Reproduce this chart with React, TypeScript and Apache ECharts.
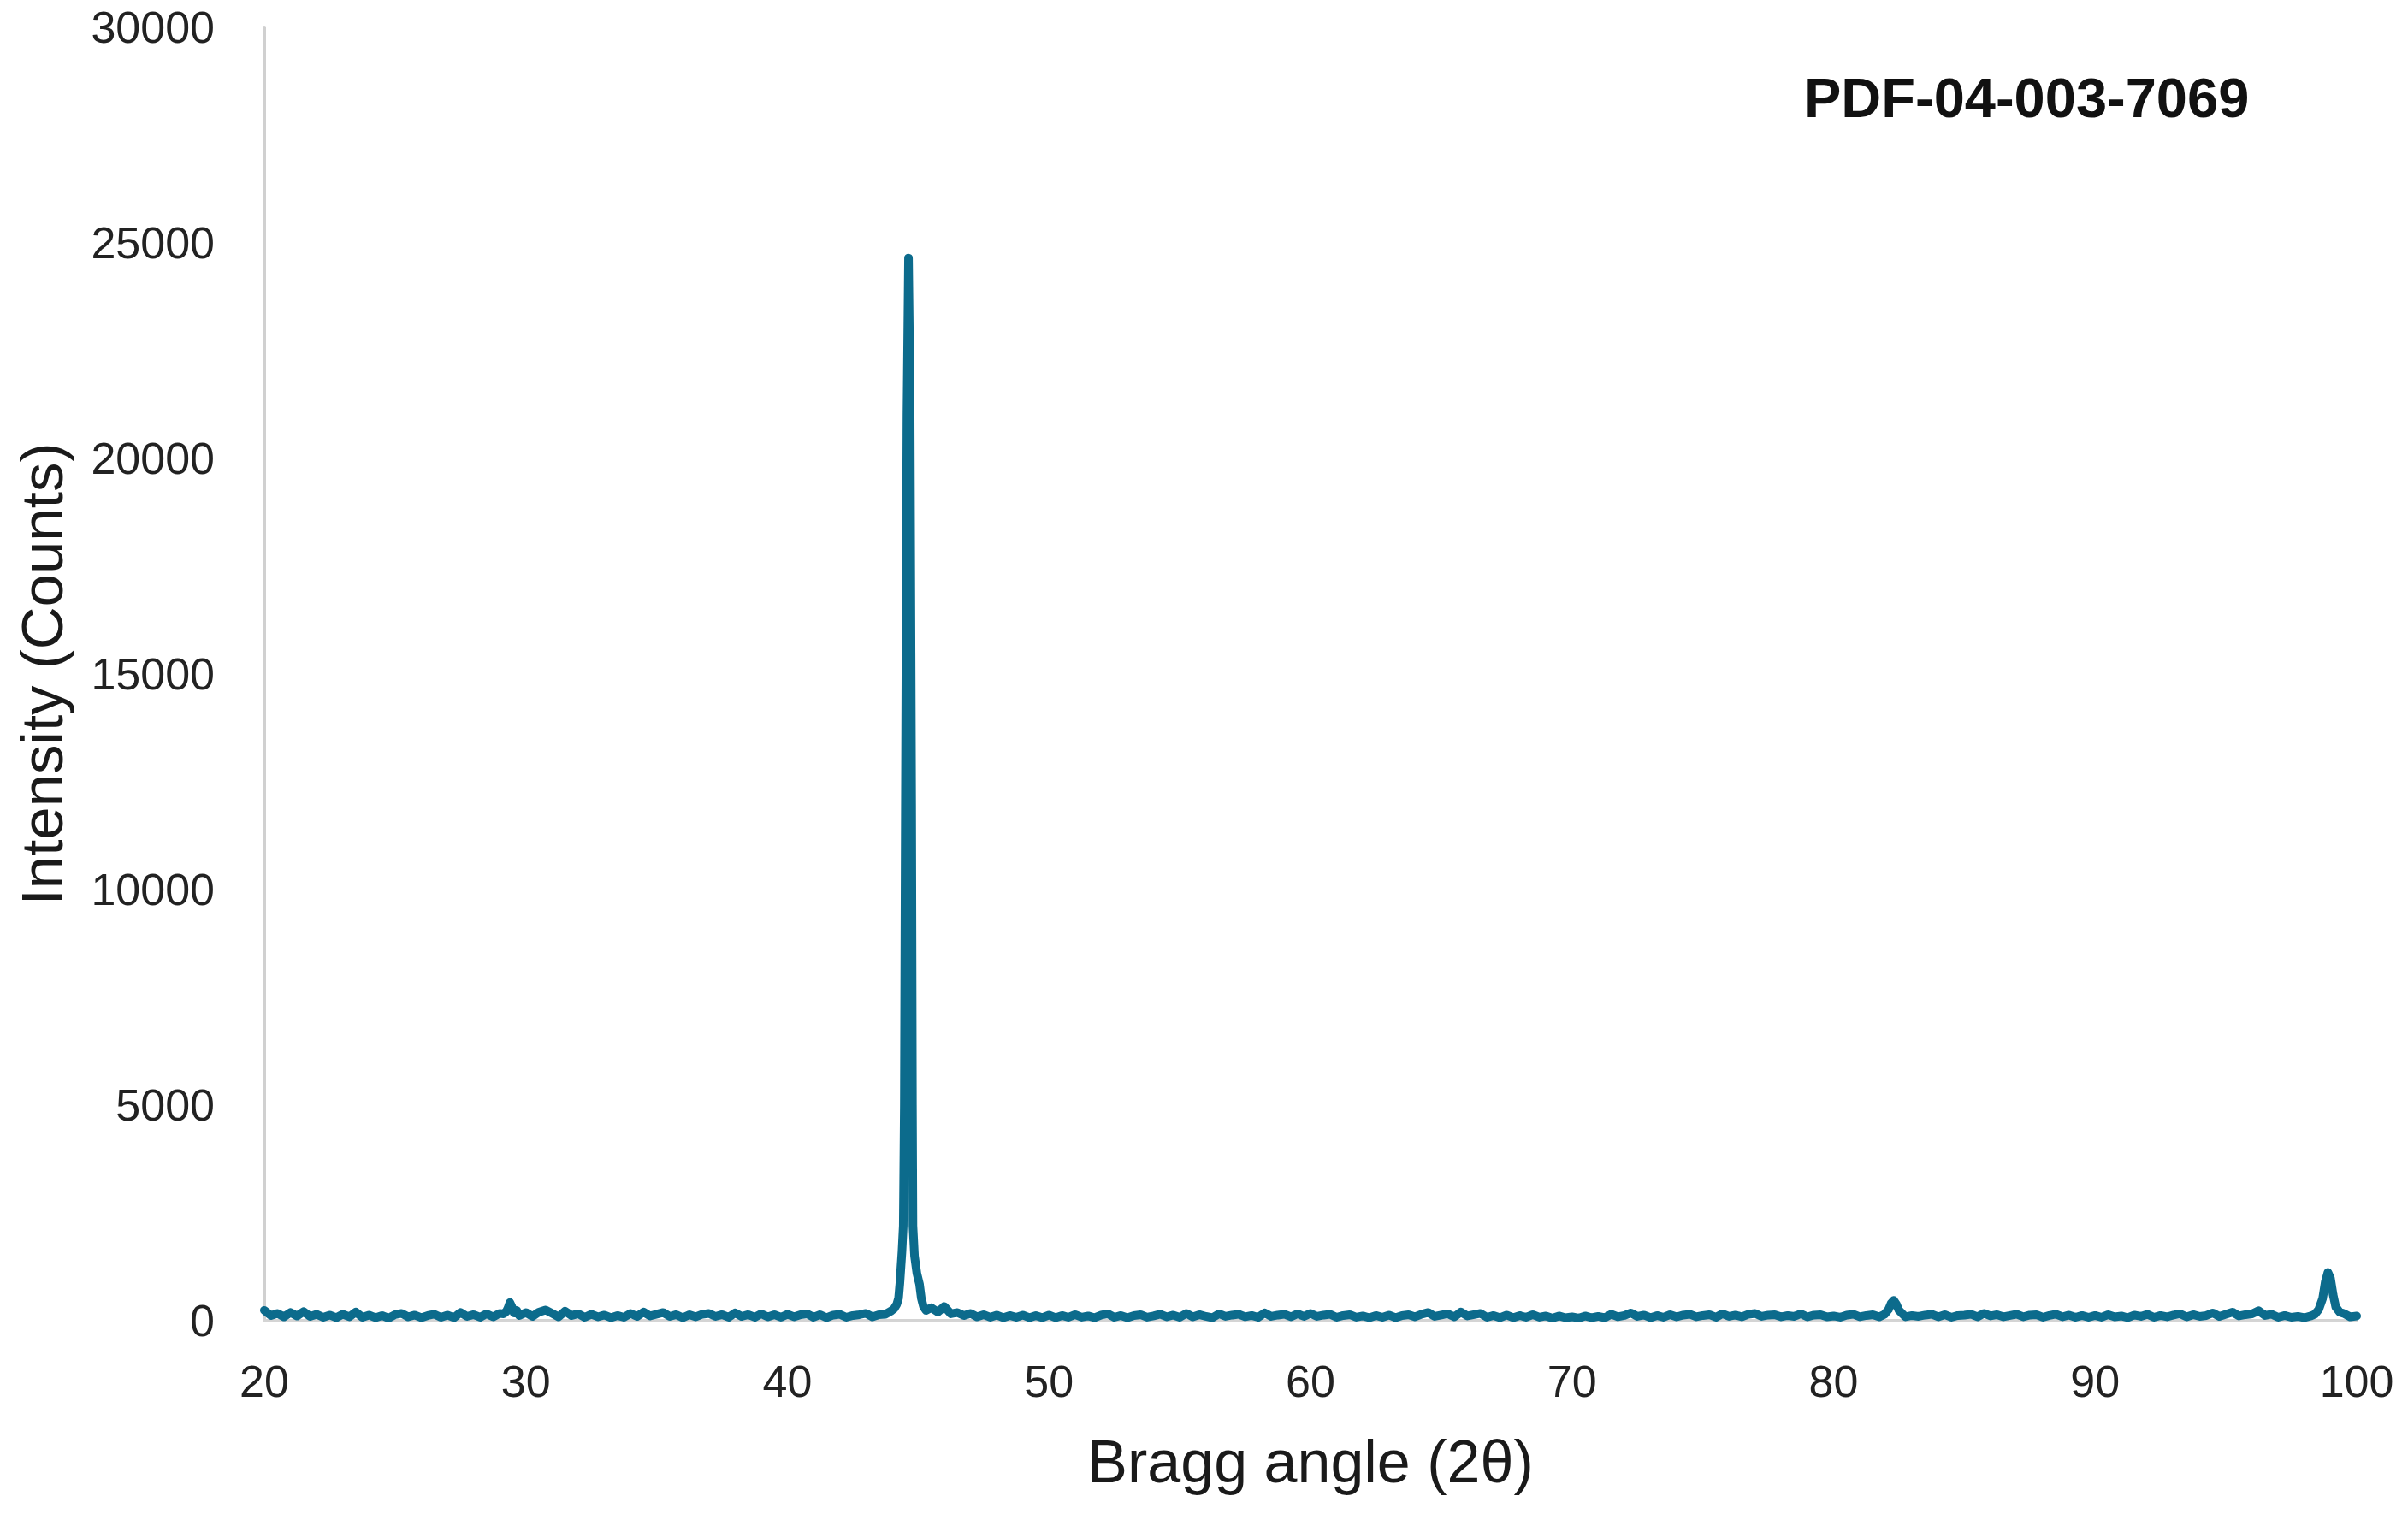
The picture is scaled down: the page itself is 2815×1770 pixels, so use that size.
import React, { useEffect, useRef } from "react";
import * as echarts from "echarts";

// Background counts at 0.25° steps, one array per decade (start angle in name)
const bg20 = [240, 120, 170, 90, 190, 110, 210, 100, 150, 80, 130, 70, 150, 90, 200, 80, 130, 70, 120, 60, 140, 170, 90, 130, 70, 120, 150, 80, 130, 70, 190, 100, 140, 80, 160, 90, 170, 250, 180, 120];
const bg30 = [190, 100, 200, 250, 170, 90, 220, 120, 160, 80, 150, 90, 130, 70, 120, 80, 170, 100, 200, 110, 150, 190, 100, 140, 70, 140, 90, 150, 170, 100, 140, 80, 180, 100, 140, 80, 160, 90, 140, 80];
const bg40 = [150, 90, 140, 160, 80, 140, 70, 130, 150, 80, 120, 140, 170, 90, 140, 150, 200, 160, 170, 190, 230, 260, 300, 200, 330, 160, 190, 120, 170, 90, 140, 80, 130, 70, 120, 80, 130, 70, 120, 70];
const bg50 = [130, 70, 120, 80, 140, 80, 110, 70, 130, 160, 80, 120, 70, 120, 140, 80, 110, 150, 90, 130, 80, 170, 90, 140, 100, 70, 160, 100, 130, 150, 90, 120, 80, 180, 100, 130, 150, 90, 160, 100];
const bg60 = [170, 100, 130, 150, 80, 120, 140, 80, 110, 70, 120, 80, 130, 70, 120, 140, 90, 150, 190, 100, 130, 160, 90, 200, 110, 140, 170, 80, 120, 70, 130, 70, 120, 80, 140, 80, 110, 60, 110, 70];
const bg70 = [90, 60, 110, 70, 100, 70, 150, 90, 120, 180, 100, 130, 70, 120, 80, 140, 90, 130, 150, 90, 120, 140, 80, 160, 100, 130, 90, 150, 170, 100, 130, 140, 90, 120, 100, 160, 90, 130, 140, 90];
const bg80 = [110, 80, 130, 150, 90, 120, 140, 90, 160, 190, 140, 90, 120, 100, 130, 150, 90, 140, 80, 120, 130, 150, 90, 170, 110, 140, 90, 120, 150, 90, 130, 140, 80, 120, 150, 90, 130, 80, 120, 80];
const bg90 = [120, 80, 140, 90, 110, 70, 130, 100, 150, 80, 120, 90, 130, 160, 90, 140, 100, 120, 180, 100, 150, 200, 110, 140, 160, 230, 120, 150, 80, 120, 80, 100, 70, 110, 120, 160, 130, 110, 140, 90];
const endPoint: [number, number] = [100, 110];

// Peaks: [angle, counts]
const peak29: [number, number][] = [[29.15, 160], [29.25, 210], [29.32, 300], [29.39, 420], [29.46, 330], [29.55, 180], [29.65, 240]];
const peak44: [number, number][] = [[43.95, 220], [44.08, 280], [44.18, 380], [44.25, 520], [44.3, 870], [44.38, 1600], [44.43, 2200], [44.47, 5000], [44.51, 12000], [44.57, 21000], [44.63, 24650], [44.69, 21500], [44.75, 12000], [44.78, 5000], [44.8, 2200], [44.86, 1500], [44.95, 1100], [45.05, 850], [45.12, 520], [45.2, 330], [45.3, 240]];
const peak82: [number, number][] = [[81.95, 150], [82.1, 260], [82.2, 400], [82.3, 470], [82.4, 380], [82.5, 240], [82.65, 150]];
const peak99: [number, number][] = [[98.4, 150], [98.55, 260], [98.7, 520], [98.8, 900], [98.9, 1120], [99.0, 980], [99.1, 600], [99.2, 320], [99.35, 200], [99.5, 170]];

const xTicks = [20, 30, 40, 50, 60, 70, 80, 90, 100];
const yTicks = [0, 5000, 10000, 15000, 20000, 25000, 30000];

const STEP = 0.25;
const decades: [number, number[]][] = [[20, bg20], [30, bg30], [40, bg40], [50, bg50], [60, bg60], [70, bg70], [80, bg80], [90, bg90]];
const peaks = [peak29, peak44, peak82, peak99];

function buildData(): [number, number][] {
  const pts: [number, number][] = [];
  decades.forEach(([start, arr]) => arr.forEach((v, i) => pts.push([+(start + i * STEP).toFixed(2), v])));
  pts.push(endPoint);
  const filtered = pts.filter(([x]) => !peaks.some((p) => x >= p[0][0] - 0.04 && x <= p[p.length - 1][0] + 0.04));
  peaks.forEach((p) => p.forEach((pt) => filtered.push(pt)));
  filtered.sort((a, b) => a[0] - b[0]);
  return filtered;
}

const FONT = "'Liberation Sans', Arial, Helvetica, sans-serif";

export default function App() {
  const ref = useRef<HTMLDivElement>(null);
  useEffect(() => {
    if (!ref.current) return;
    const chart = echarts.init(ref.current, null, { renderer: "svg" });
    chart.setOption({
      animation: false,
      backgroundColor: "#ffffff",
      textStyle: { fontFamily: FONT },
      grid: { left: 309, right: 60, top: 32, bottom: 226, containLabel: false },
      xAxis: {
        type: "value",
        min: xTicks[0],
        max: xTicks[xTicks.length - 1],
        interval: 10,
        name: "Bragg angle (2θ)",
        nameLocation: "middle",
        nameGap: 130,
        nameTextStyle: { fontSize: 70, color: "#1a1a1a", fontFamily: FONT },
        axisLine: { show: true, lineStyle: { color: "#d4d4d4", width: 4 } },
        axisTick: { show: false },
        splitLine: { show: false },
        axisLabel: { fontSize: 52, color: "#222222", margin: 45, fontFamily: FONT, formatter: (v: number) => String(v) },
      },
      yAxis: {
        type: "value",
        min: yTicks[0],
        max: yTicks[yTicks.length - 1],
        interval: 5000,
        name: "Intensity (Counts)",
        nameLocation: "middle",
        nameGap: 225,
        nameTextStyle: { fontSize: 69, color: "#1a1a1a", fontFamily: FONT },
        axisLine: { show: true, lineStyle: { color: "#d0d0d0", width: 4 } },
        axisTick: { show: false },
        splitLine: { show: false },
        axisLabel: { fontSize: 52, color: "#222222", margin: 58, fontFamily: FONT, formatter: (v: number) => String(v) },
      },
      graphic: [
        {
          type: "text",
          left: 2109,
          top: 82,
          style: {
            text: "PDF-04-003-7069",
            fontSize: 65,
            fontWeight: "bold",
            fill: "#111111",
            fontFamily: FONT,
          },
        },
      ],
      series: [
        {
          type: "line",
          data: buildData(),
          showSymbol: false,
          symbol: "none",
          lineStyle: { color: "#0c6b8c", width: 10, join: "round", cap: "round" },
          z: 3,
        },
      ],
    });
    return () => chart.dispose();
  }, []);
  return <div ref={ref} style={{ position: "fixed", left: 0, top: 0, width: 2815, height: 1770 }} />;
}
